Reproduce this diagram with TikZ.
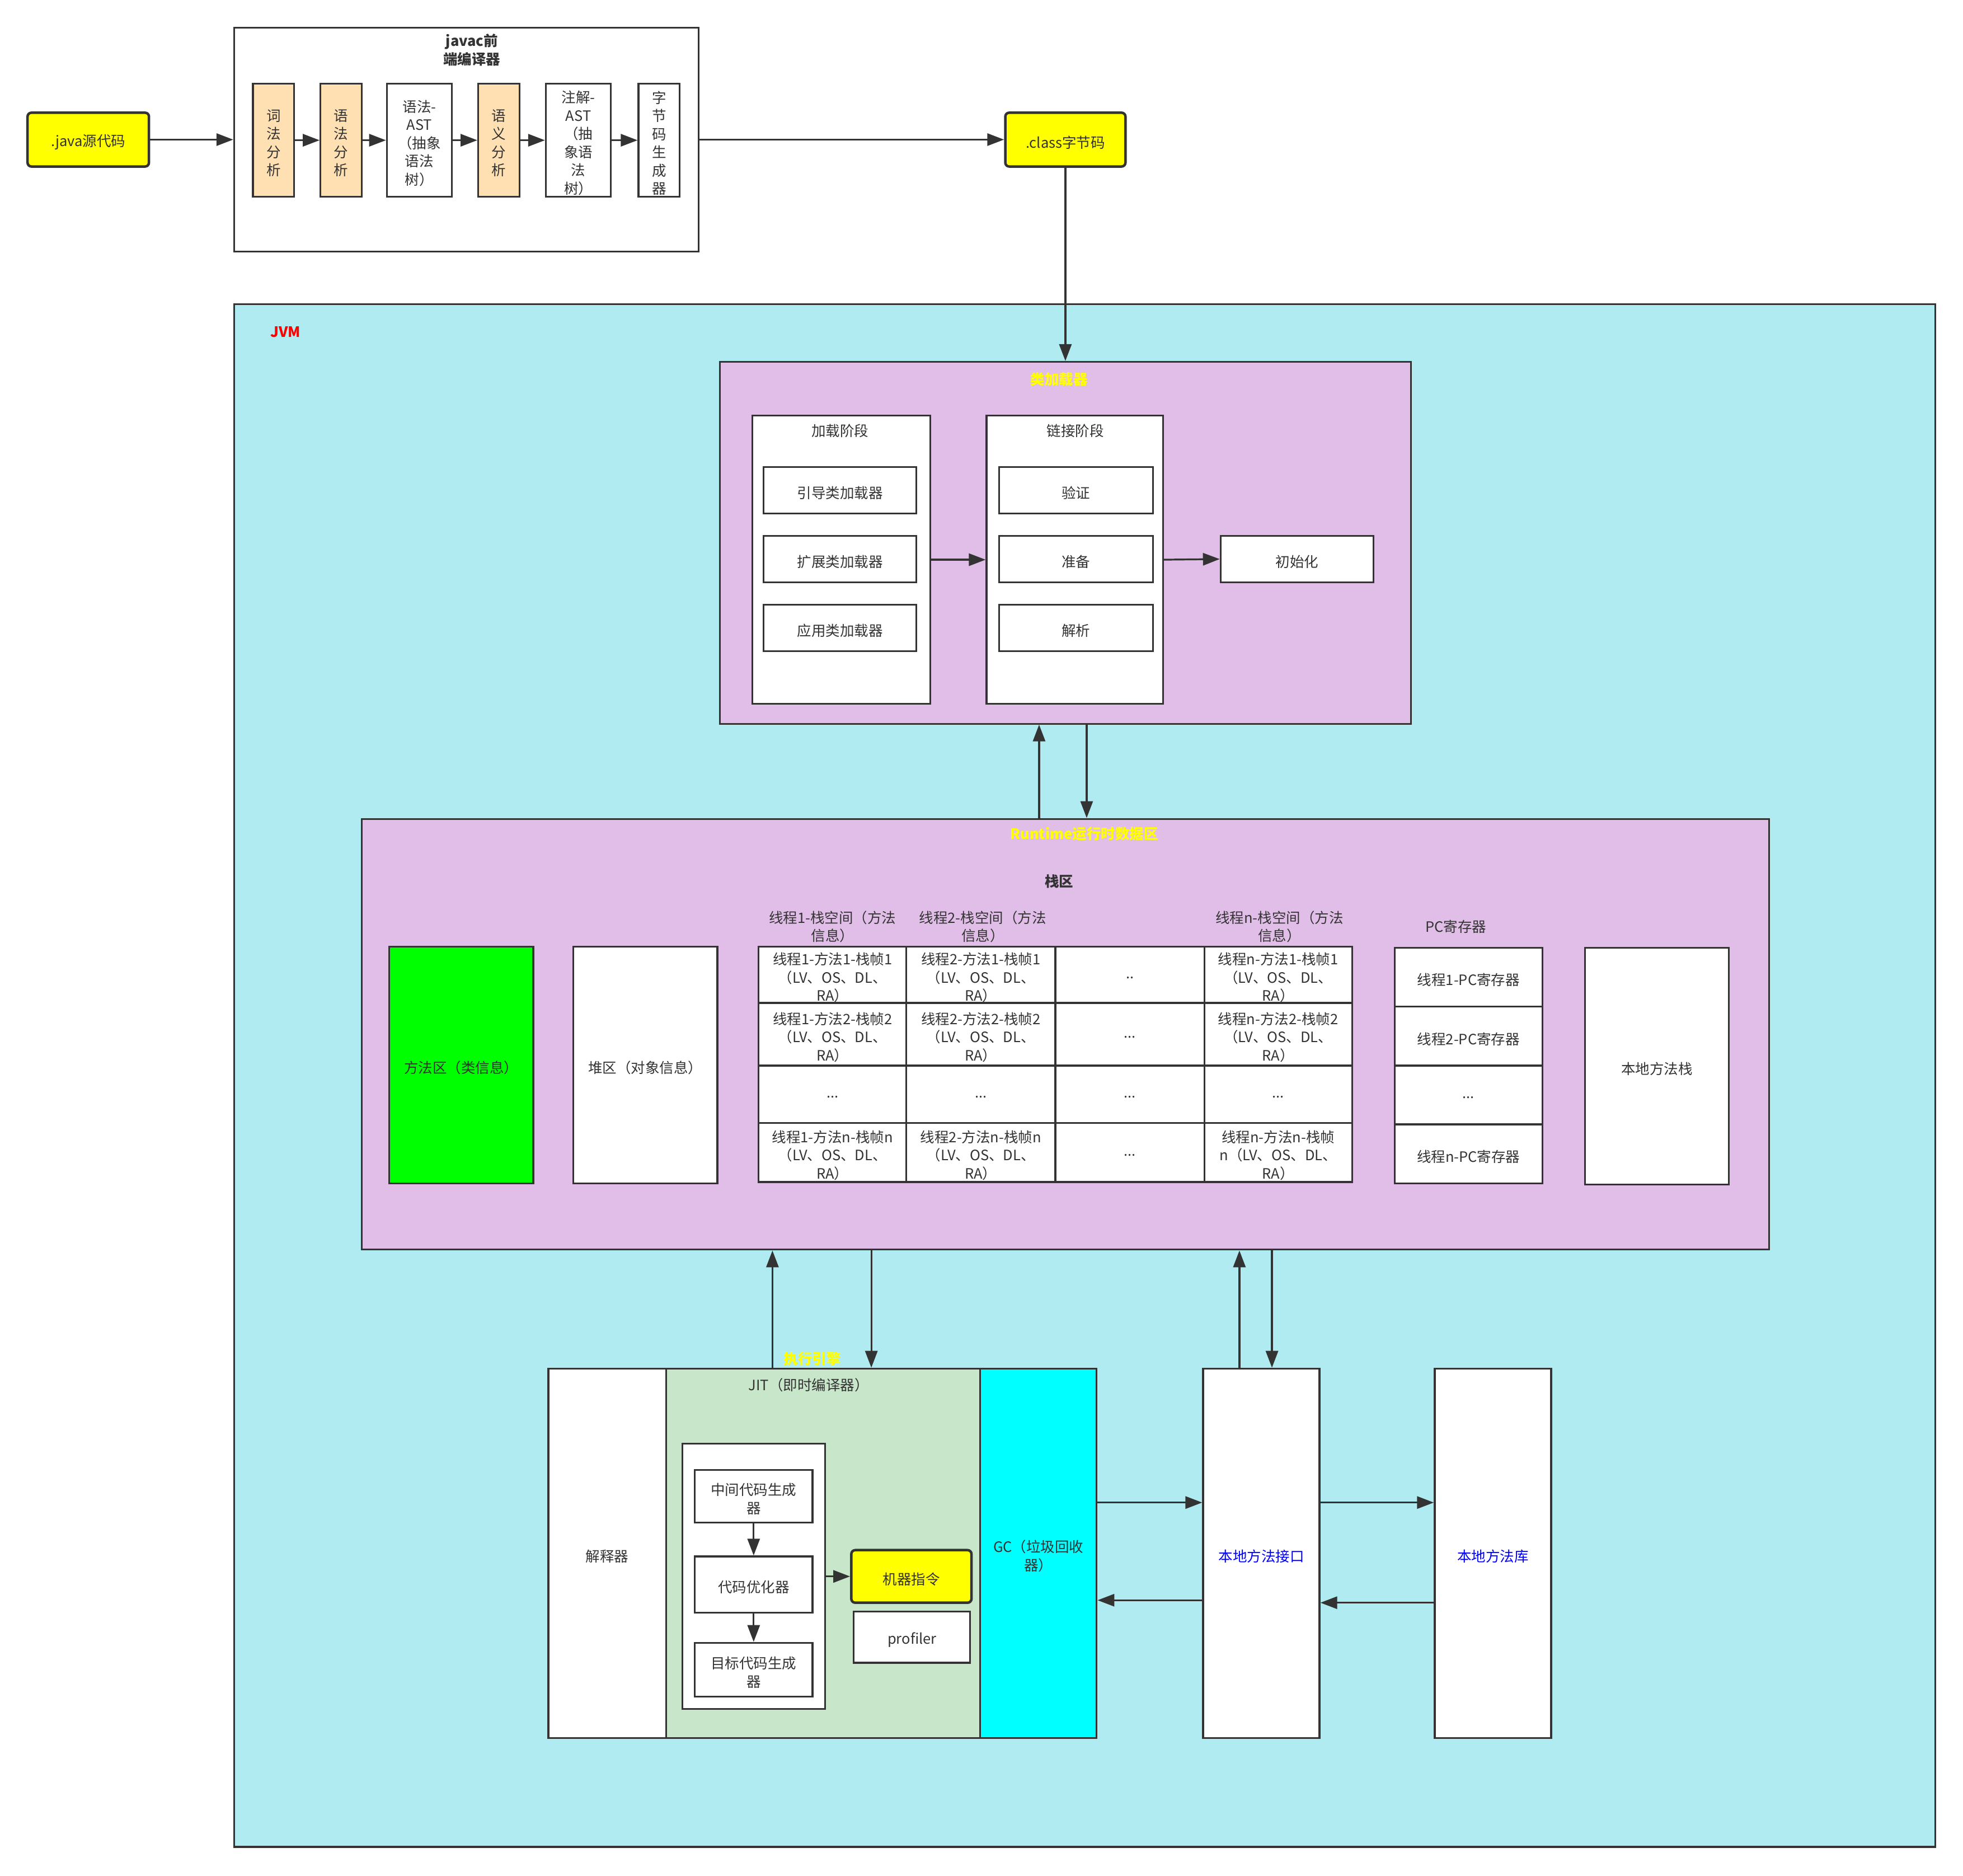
\documentclass[tikz,border=0pt]{standalone}
\usepackage{fontspec}
\setmainfont{Noto Sans CJK SC}
\usetikzlibrary{arrows.meta}
\definecolor{ln}{HTML}{333333}
\definecolor{jvmc}{HTML}{B1EBF2}
\definecolor{pur}{HTML}{E1BEE7}
\definecolor{org}{HTML}{FFE0B3}
\definecolor{jitg}{HTML}{C8E6C9}
\definecolor{cyn}{HTML}{00FFFF}
\definecolor{grn}{HTML}{00FF00}
\definecolor{yel}{HTML}{FFFF00}
\definecolor{redt}{HTML}{FF0000}
\definecolor{blu}{HTML}{0000FF}
\newcommand{\fs}{\fontsize{25.5}{32.5}\selectfont}
\newcommand{\bx}[7][]{%
  \node[box,#1,minimum width={(#5-#3)*2.2372pt},minimum height={(#6-#4)*2.2372pt}] (#2) at ({(#3+#5)/2},{(#4+#6)/2}) {};
  \node[lbl] (#2t) at ([yshift=-5pt]#2.center) {#7};}
\tikzset{
  box/.style={draw=ln, line width=3.2pt, fill=white, inner sep=0pt},
  rnd/.style={rounded corners=7pt, line width=4.5pt},
  lbl/.style={font=\fs, text=ln, align=center, inner sep=0pt},
  ttl/.style={font=\fs\bfseries, align=center, inner sep=0pt},
  arr/.style={draw=ln, line width=3.2pt, -{Triangle[length=30pt,width=22pt]}}
}
\begin{document}
\begin{tikzpicture}[x=2.2372pt,y=-2.2372pt]
\useasboundingbox (0,0) rectangle (1568,1498);
\fill[white] (0,0) rectangle (1568,1498);
% JVM background
\bx[fill=jvmc]{jvm}{187}{243}{1546}{1475}{}
\node[ttl,text=redt] (jvmt) at (228,265) {JVM};
% front-end
\bx[rnd,fill=yel]{jav}{22}{90}{119}{133}{.java源代码}
\bx{javac}{187}{22}{558}{201}{}
\node[ttl,text=ln] (javact) at (377,40) {javac前\\端编译器};
\bx[fill=org]{s1}{202}{67}{235}{157}{词\\法\\分\\析}
\bx[fill=org]{s2}{256}{67}{289}{157}{语\\法\\分\\析}
\bx{s3}{309}{67}{361}{157}{语法-\\AST\\（抽象\\语法\\树）}
\bx[fill=org]{s4}{382}{67}{415}{157}{语\\义\\分\\析}
\bx{s5}{436}{67}{488}{157}{注解-\\AST\\（抽\\象语\\法\\树）}
\bx{s6}{510}{67}{543}{157}{字\\节\\码\\生\\成\\器}
\bx[rnd,fill=yel]{cls}{803}{90}{899}{133}{.class字节码}
% class loader
\bx[fill=pur]{cl}{575}{289}{1127}{578}{}
\node[ttl,text=yel] (clt) at (846,303) {类加载器};
\bx{ld}{601}{332}{743}{562}{}
\node[lbl] (ldt) at (671,344) {加载阶段};
\bx{l1}{610}{373}{732}{410}{引导类加载器}
\bx{l2}{610}{428}{732}{465}{扩展类加载器}
\bx{l3}{610}{483}{732}{520}{应用类加载器}
\bx{lk}{788}{332}{929}{562}{}
\node[lbl] (lkt) at (859,344) {链接阶段};
\bx{k1}{798}{373}{921}{410}{验证}
\bx{k2}{798}{428}{921}{465}{准备}
\bx{k3}{798}{483}{921}{520}{解析}
\bx{init}{975}{428}{1097}{465}{初始化}
% runtime data area
\bx[fill=pur]{rt}{289}{654}{1413}{998}{}
\node[ttl,text=yel] (rtt) at (866,666) {Runtime运行时数据区};
\node[ttl,text=ln] (stk) at (846,704) {栈区};
\bx[fill=grn]{ma}{311}{756}{426}{945}{方法区（类信息）}
\bx{heap}{458}{756}{573}{945}{堆区（对象信息）}
\node[lbl] (h1) at (665,740) {线程1-栈空间（方法\\信息）};
\node[lbl] (h2) at (785,740) {线程2-栈空间（方法\\信息）};
\node[lbl] (hn) at (1022,740) {线程n-栈空间（方法\\信息）};
\bx{a1}{606}{756}{724}{801}{线程1-方法1-栈帧1\\（LV、OS、DL、\\RA）}
\bx{a2}{606}{801}{724}{851}{线程1-方法2-栈帧2\\（LV、OS、DL、\\RA）}
\bx{a3}{606}{851}{724}{897}{...}
\bx{a4}{606}{897}{724}{944}{线程1-方法n-栈帧n\\（LV、OS、DL、\\RA）}
\bx{b1}{724}{756}{843}{801}{线程2-方法1-栈帧1\\（LV、OS、DL、\\RA）}
\bx{b2}{724}{801}{843}{851}{线程2-方法2-栈帧2\\（LV、OS、DL、\\RA）}
\bx{b3}{724}{851}{843}{897}{...}
\bx{b4}{724}{897}{843}{944}{线程2-方法n-栈帧n\\（LV、OS、DL、\\RA）}
\bx{d1}{843}{756}{962}{801}{..}
\bx{d2}{843}{801}{962}{851}{...}
\bx{d3}{843}{851}{962}{897}{...}
\bx{d4}{843}{897}{962}{944}{...}
\bx{n1}{962}{756}{1080}{801}{线程n-方法1-栈帧1\\（LV、OS、DL、\\RA）}
\bx{n2}{962}{801}{1080}{851}{线程n-方法2-栈帧2\\（LV、OS、DL、\\RA）}
\bx{n3}{962}{851}{1080}{897}{...}
\bx{n4}{962}{897}{1080}{944}{线程n-方法n-栈帧\\n（LV、OS、DL、\\RA）}
\node[lbl] (pct) at (1163,740) {PC寄存器};
\bx{p1}{1114}{757}{1232}{804}{线程1-PC寄存器}
\bx{p2}{1114}{804}{1232}{851}{线程2-PC寄存器}
\bx{p3}{1114}{851}{1232}{898}{...}
\bx{p4}{1114}{898}{1232}{945}{线程n-PC寄存器}
\bx{nms}{1266}{757}{1381}{946}{本地方法栈}
% execution engine
\bx{interp}{438}{1093}{532}{1388}{解释器}
\bx[fill=jitg]{jit}{532}{1093}{783}{1388}{}
\node[lbl] (jitt) at (646,1106) {JIT（即时编译器）};
\bx[fill=cyn]{gc}{783}{1093}{876}{1388}{GC（垃圾回收\\器）}
\bx{jin}{545}{1153}{659}{1365}{}
\bx{c1}{555}{1174}{649}{1216}{中间代码生成\\器}
\bx{c2}{555}{1243}{649}{1288}{代码优化器}
\bx{c3}{555}{1312}{649}{1355}{目标代码生成\\器}
\bx[rnd,fill=yel]{mc}{680}{1238}{776}{1280}{机器指令}
\bx{prof}{682}{1287}{775}{1328}{profiler}
\bx{nmi}{961}{1093}{1054}{1388}{\color{blu}本地方法接口}
\bx{nml}{1146}{1093}{1239}{1388}{\color{blu}本地方法库}
% helper coordinates
\coordinate (xa) at (830,0);
\coordinate (xb) at (868,0);
\coordinate (xc) at (617,0);
\coordinate (xd) at (696,0);
\coordinate (xe) at (990,0);
\coordinate (xf) at (1016,0);
\coordinate (ya) at (0,1200);
\coordinate (yb) at (0,1278);
\coordinate (yc) at (0,1280);
% arrows
\draw[arr] (jav.east) -- (javac.west);
\draw[arr] (s1.east) -- (s2.west);
\draw[arr] (s2.east) -- (s3.west);
\draw[arr] (s3.east) -- (s4.west);
\draw[arr] (s4.east) -- (s5.west);
\draw[arr] (s5.east) -- (s6.west);
\draw[arr] (javac.east) -- (cls.west);
\draw[arr] (cls.south) -- (cls.south |- cl.north);
\draw[arr] (ld.east) -- (lk.west);
\draw[arr] (lk.east) -- (init.west);
\draw[arr] (rt.north -| xa) -- (cl.south -| xa);
\draw[arr] (cl.south -| xb) -- (rt.north -| xb);
\draw[arr] (jit.north -| xc) -- (rt.south -| xc);
\draw[arr] (rt.south -| xd) -- (jit.north -| xd);
\draw[arr] (nmi.north -| xe) -- (rt.south -| xe);
\draw[arr] (rt.south -| xf) -- (nmi.north -| xf);
\draw[arr] (gc.east |- ya) -- (nmi.west |- ya);
\draw[arr] (nmi.west |- yb) -- (gc.east |- yb);
\draw[arr] (nmi.east |- ya) -- (nml.west |- ya);
\draw[arr] (nml.west |- yc) -- (nmi.east |- yc);
\draw[arr] (c1.south) -- (c2.north);
\draw[arr] (c2.south) -- (c3.north);
\draw[arr] (jin.east) -- (mc.west);
\node[ttl,text=yel] (eng) at (649,1085) {执行引擎};
\end{tikzpicture}
\end{document}
